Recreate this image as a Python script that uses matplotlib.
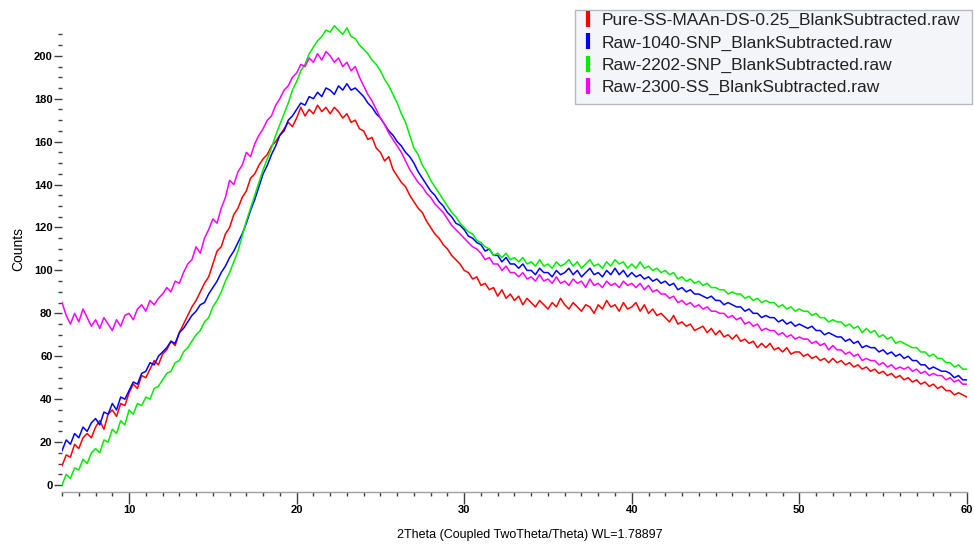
import numpy as np
import matplotlib
matplotlib.use("Agg")
import matplotlib.pyplot as plt
from matplotlib.lines import Line2D
from matplotlib.patches import Rectangle
from matplotlib.ticker import MultipleLocator, FixedLocator

plt.rcParams['font.family'] = ['Liberation Sans', 'DejaVu Sans']

# 2theta grid, 0.25 deg steps from 6 to 60
two_theta = np.arange(6.0, 60.001, 0.25)

# counts (8 values per 2 degrees)
pure_ss = [9, 14, 13, 19, 17, 22, 24, 22,
           27, 30, 26, 33, 35, 32, 38, 37,
           43, 47, 45, 51, 50, 54, 58, 56,
           61, 63, 67, 65, 71, 75, 79, 83,
           86, 90, 94, 97, 103, 109, 111, 117,
           120, 126, 129, 134, 137, 143, 145, 149,
           152, 154, 158, 160, 163, 166, 169, 167,
           171, 176, 172, 175, 173, 177, 174, 176,
           173, 176, 174, 171, 173, 169, 170, 166,
           165, 161, 162, 157, 155, 151, 153, 147,
           144, 141, 139, 135, 132, 129, 127, 123,
           120, 117, 115, 112, 110, 107, 105, 103,
           100, 99, 96, 97, 93, 94, 91, 92,
           88, 91, 87, 89, 86, 88, 84, 87,
           85, 83, 86, 84, 82, 85, 83, 87,
           84, 82, 85, 83, 81, 84, 83, 80,
           84, 82, 86, 83, 84, 81, 85, 82,
           83, 85, 81, 84, 80, 82, 79, 80,
           78, 76, 79, 75, 76, 74, 75, 72,
           73, 74, 71, 73, 70, 72, 69, 70,
           68, 70, 67, 68, 66, 67, 64, 66,
           64, 66, 63, 64, 62, 64, 61, 62,
           62, 60, 61, 59, 60, 58, 59, 57,
           59, 57, 58, 56, 57, 55, 56, 54,
           55, 53, 54, 52, 53, 51, 52, 50,
           51, 49, 50, 48, 49, 47, 48, 46,
           47, 45, 46, 44, 44, 42, 43, 42,
           41]

raw_1040 = [16, 21, 19, 24, 22, 27, 25, 29,
            31, 28, 34, 33, 38, 35, 41, 40,
            44, 48, 47, 52, 53, 57, 56, 60,
            62, 64, 67, 66, 71, 73, 76, 79,
            81, 84, 85, 89, 92, 95, 99, 102,
            106, 109, 113, 117, 122, 128, 133, 139,
            145, 149, 154, 158, 163, 165, 170, 172,
            175, 178, 177, 181, 180, 183, 181, 185,
            184, 182, 186, 184, 187, 184, 185, 183,
            181, 178, 176, 173, 171, 168, 165, 163,
            160, 158, 155, 153, 150, 146, 143, 140,
            137, 135, 132, 130, 127, 125, 122, 121,
            119, 116, 115, 113, 112, 109, 110, 107,
            107, 104, 106, 103, 103, 101, 103, 100,
            100, 98, 101, 99, 99, 97, 100, 98,
            99, 101, 98, 100, 97, 99, 101, 98,
            99, 97, 100, 98, 101, 98, 100, 97,
            99, 97, 98, 96, 97, 95, 96, 94,
            95, 93, 94, 91, 92, 90, 91, 89,
            89, 88, 87, 88, 86, 86, 84, 85,
            84, 83, 83, 81, 82, 80, 80, 78,
            79, 78, 78, 76, 77, 75, 76, 74,
            75, 74, 73, 74, 72, 72, 70, 71,
            70, 69, 69, 67, 68, 66, 67, 64,
            65, 64, 64, 62, 63, 61, 62, 60,
            61, 59, 60, 58, 58, 56, 56, 54,
            55, 54, 53, 53, 52, 50, 51, 49,
            49]

raw_2202 = [0, 5, 3, 8, 7, 12, 10, 15,
            17, 15, 21, 20, 26, 24, 30, 28,
            35, 33, 38, 37, 41, 40, 45, 46,
            49, 52, 53, 57, 58, 62, 64, 67,
            70, 72, 76, 78, 83, 86, 90, 95,
            99, 104, 109, 116, 123, 129, 135, 141,
            147, 152, 157, 163, 168, 173, 178, 184,
            188, 193, 196, 201, 204, 207, 209, 212,
            211, 214, 212, 210, 213, 209, 208, 205,
            203, 201, 198, 196, 193, 189, 186, 182,
            178, 173, 169, 163, 157, 154, 149, 146,
            142, 139, 136, 133, 130, 127, 125, 122,
            120, 118, 117, 114, 113, 111, 110, 107,
            108, 106, 108, 105, 106, 104, 106, 103,
            104, 102, 105, 102, 103, 101, 104, 102,
            103, 105, 102, 104, 101, 103, 105, 102,
            103, 101, 104, 102, 105, 103, 104, 101,
            103, 101, 104, 101, 102, 100, 101, 99,
            100, 98, 99, 96, 97, 95, 96, 94,
            95, 93, 94, 92, 92, 91, 91, 89,
            90, 89, 89, 87, 88, 86, 87, 85,
            86, 85, 85, 83, 84, 82, 83, 81,
            82, 81, 81, 79, 80, 78, 78, 76,
            77, 76, 76, 74, 75, 73, 74, 71,
            73, 71, 72, 69, 70, 68, 69, 66,
            67, 66, 65, 64, 64, 62, 62, 60,
            61, 59, 59, 57, 57, 55, 56, 54,
            54]

raw_2300 = [85, 79, 75, 80, 76, 82, 78, 74,
            77, 73, 78, 75, 72, 77, 74, 79,
            80, 77, 82, 84, 81, 86, 84, 87,
            89, 92, 90, 95, 94, 99, 103, 105,
            111, 108, 115, 119, 124, 122, 129, 134,
            142, 140, 146, 149, 155, 153, 159, 163,
            166, 170, 172, 177, 180, 184, 186, 190,
            192, 196, 195, 199, 197, 201, 198, 202,
            200, 197, 199, 195, 197, 193, 195, 190,
            186, 182, 179, 175, 171, 168, 164, 161,
            158, 155, 151, 147, 144, 141, 139, 136,
            134, 131, 129, 127, 124, 121, 119, 117,
            115, 113, 111, 110, 108, 105, 106, 103,
            103, 100, 102, 99, 99, 97, 99, 96,
            97, 95, 98, 95, 96, 94, 97, 94,
            95, 93, 96, 94, 95, 92, 96, 93,
            94, 92, 95, 93, 94, 92, 95, 93,
            94, 92, 94, 91, 93, 90, 91, 89,
            89, 87, 88, 85, 86, 84, 85, 83,
            84, 82, 83, 81, 81, 80, 80, 78,
            79, 77, 78, 75, 76, 74, 75, 72,
            73, 72, 72, 70, 71, 69, 70, 68,
            69, 68, 68, 66, 67, 65, 66, 63,
            65, 63, 63, 61, 62, 60, 61, 58,
            59, 58, 58, 56, 57, 55, 56, 54,
            55, 54, 55, 53, 54, 52, 53, 51,
            52, 51, 51, 49, 50, 48, 49, 47,
            47]

labels = ['Pure-SS-MAAn-DS-0.25_BlankSubtracted.raw',
          'Raw-1040-SNP_BlankSubtracted.raw',
          'Raw-2202-SNP_BlankSubtracted.raw',
          'Raw-2300-SS_BlankSubtracted.raw']
colors = ['#ff0000', '#0000ff', '#00ee00', '#ff00ff']

fig = plt.figure(figsize=(9.74, 5.48), dpi=100)
ax = fig.add_axes([0.0637, 0.102, 0.929, 0.898])

for ys, c in zip([pure_ss, raw_1040, raw_2202, raw_2300], colors):
    ax.plot(two_theta, ys, color=c, lw=1.1)

ax.set_xlim(6, 60)
ax.set_ylim(-3.3, 226)

for s in ['top', 'right', 'left']:
    ax.spines[s].set_visible(False)
ax.spines['bottom'].set_color('#a0a0a0')
ax.spines['bottom'].set_linewidth(1.0)

ax.xaxis.set_major_locator(MultipleLocator(10))
ax.xaxis.set_minor_locator(MultipleLocator(1))
ax.yaxis.set_major_locator(FixedLocator(np.arange(0, 201, 20)))
ax.yaxis.set_minor_locator(FixedLocator([v for v in np.arange(0, 211, 5) if v % 20]))
ax.tick_params(axis='both', which='major', direction='out', width=1.0,
               color='#404040', labelsize=8)
ax.tick_params(axis='x', which='major', length=8.5, pad=1)
ax.tick_params(axis='y', which='major', length=6, pad=0.8)
ax.tick_params(axis='both', which='minor', direction='out', length=3, width=1.0,
               color='#404040')
for lab in ax.get_xticklabels() + ax.get_yticklabels():
    lab.set_fontweight('bold')

fig.text(18 / 974, 1 - 249 / 548, 'Counts', rotation=90, ha='center', va='center',
         fontsize=10)
fig.text(530 / 974, 1 - 535 / 548, '2Theta (Coupled TwoTheta/Theta) WL=1.78897',
         ha='center', va='center', fontsize=9)

# legend box
fig.patches.append(Rectangle((575 / 974, 1 - 104 / 548), 397 / 974, 94 / 548,
                             transform=fig.transFigure, facecolor='#f4f5f8',
                             edgecolor='#b8b8c0', lw=1.0, zorder=5))
handles = [Line2D([], [], color=c, marker='|', linestyle='none',
                  markersize=11, markeredgewidth=3) for c in colors]
leg = fig.legend(handles, labels, loc='upper left',
                 bbox_to_anchor=(581 / 974, 1 - 13 / 548),
                 frameon=False, fontsize=12.5, handlelength=0.8,
                 handletextpad=0.4, labelspacing=0.4, borderpad=0.0,
                 borderaxespad=0.0)
leg.set_zorder(6)
for t in leg.get_texts():
    t.set_color('#222222')

fig.savefig('out.png', dpi=100)
